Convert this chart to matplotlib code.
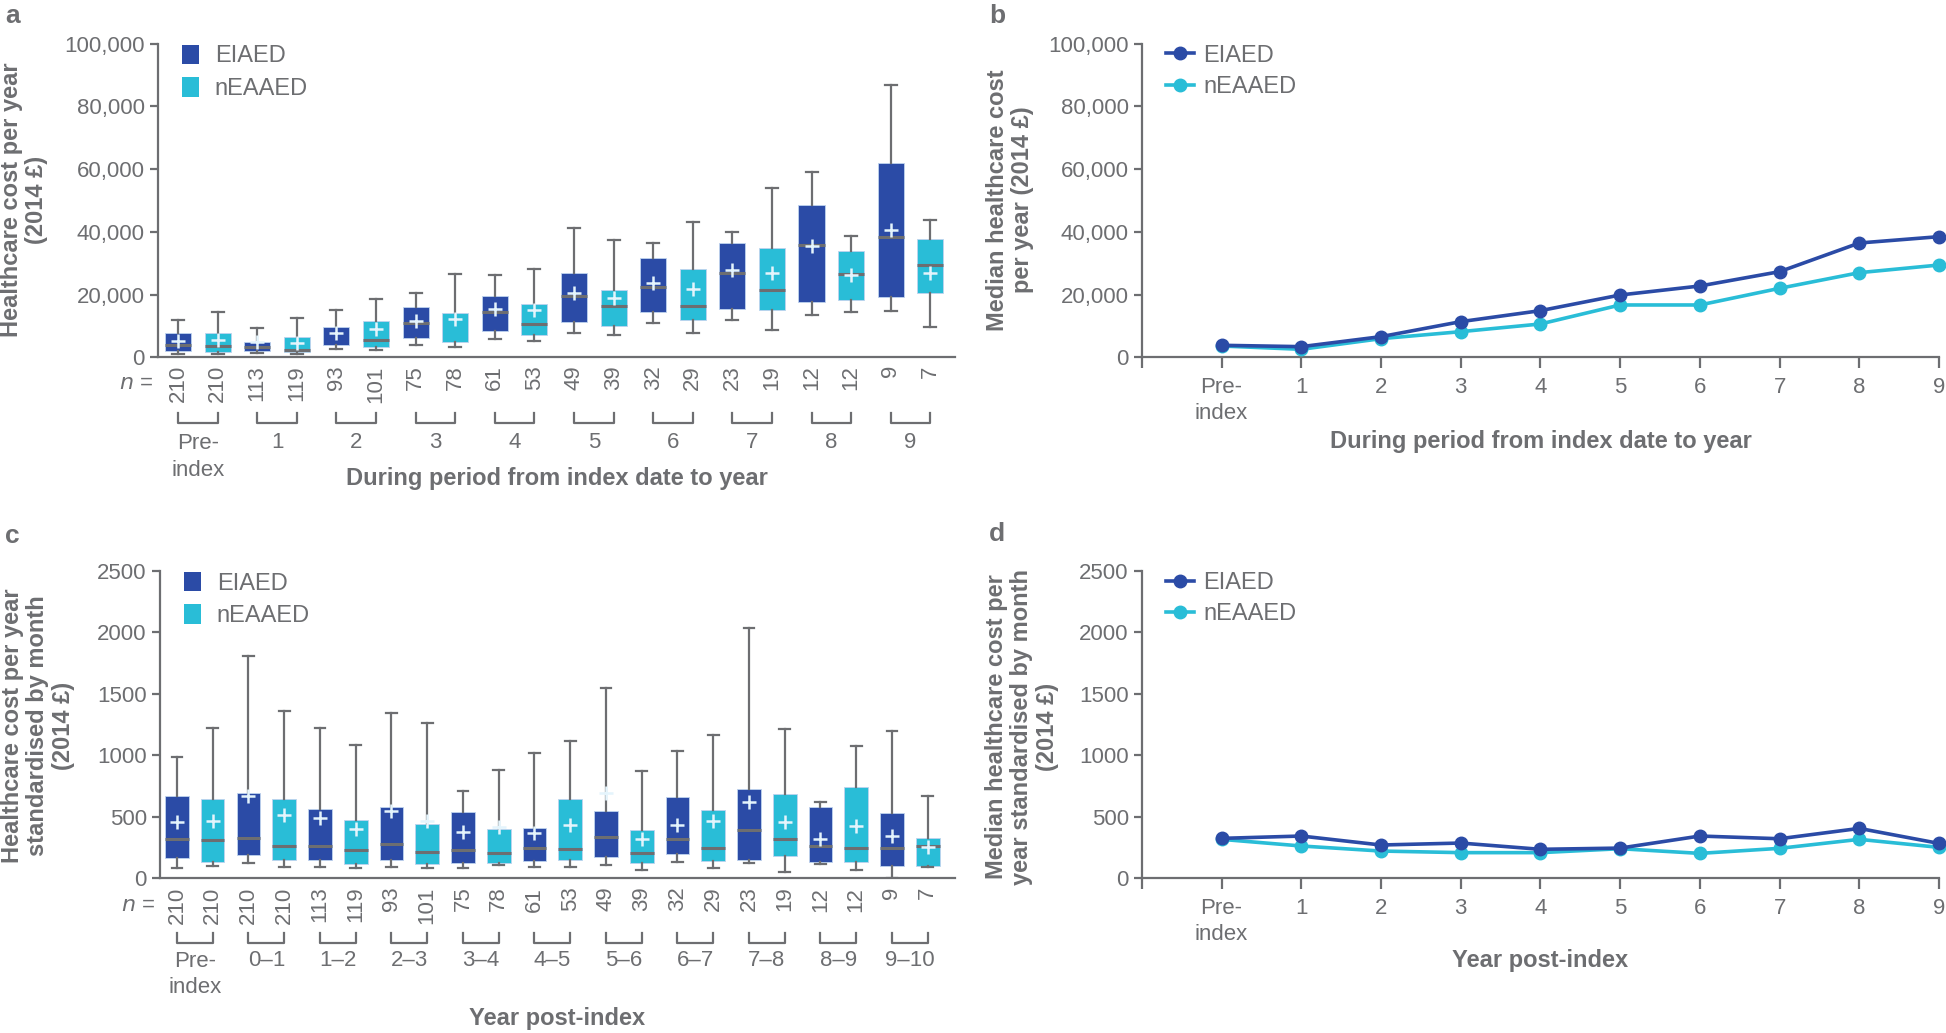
import numpy as np
import matplotlib
matplotlib.use("Agg")
import matplotlib.pyplot as plt
from matplotlib.patches import Patch

plt.rcParams['font.family'] = ['Liberation Sans', 'DejaVu Sans']

GREY = "#6D6E71"
DARK = "#2B4BA6"
CYAN = "#29BDD7"
series = ["EIAED", "nEAAED"]

# ---- panel a: cost per year, boxes alternate EIAED / nEAAED
a_groups = ["Pre-\nindex", "1", "2", "3", "4", "5", "6", "7", "8", "9"]
a_n = [210, 210, 113, 119, 93, 101, 75, 78, 61, 53, 49, 39, 32, 29, 23, 19, 12, 12, 9, 7]
a_whislo = [1060, 1060, 1490, 1060, 2660, 2340, 4040, 3400, 5950, 5210,
            7760, 7010, 11050, 7860, 11900, 8610, 13390, 14560, 14670, 9670]
a_q1 = [2020, 1700, 2020, 1590, 3930, 3400, 6270, 4780, 8400, 7010,
        11160, 10100, 14450, 11800, 15300, 15090, 17750, 18380, 19130, 20400]
a_med = [3830, 3610, 3400, 2440, np.nan, 5420, 11050, np.nan, 14560, 10520,
         19660, 16470, 22420, 16370, 26990, 21360, 35710, 26460, 38260, 29330]
a_q3 = [7865, 7870, 4780, 6380, 9780, 11480, 15940, 14030, 19550, 17000,
        26780, 21360, 31780, 28060, 36560, 34960, 48670, 34010, 61850, 37620]
a_whishi = [11900, 14560, 9460, 12430, 15090, 18600, 20400, 26460, 26140, 28270,
            41340, 37410, 36560, 43250, 39850, 54090, 59190, 38680, 86720, 43890]
a_mean = [5310, 5530, 4780, 4460, 7860, 9030, 11690, 12220, 15400, 15090,
          20620, 18920, 23800, 21790, 27740, 26780, 35600, 26350, 40600, 26990]

# ---- panel b: median cost per year
b_labels = ["Pre-\nindex", "1", "2", "3", "4", "5", "6", "7", "8", "9"]
b_eiaed = [3830, 3400, 6590, 11370, 14880, 19870, 22740, 27310, 36450, 38470]
b_neaaed = [3610, 2550, 5950, 8180, 10630, 16690, 16690, 22000, 26990, 29430]

# ---- panel c: cost per year standardised by month
c_groups = ["Pre-\nindex", "0\u20131", "1\u20132", "2\u20133", "3\u20134", "4\u20135",
            "5\u20136", "6\u20137", "7\u20138", "8\u20139", "9\u201310"]
c_n = [210, 210, 210, 210, 113, 119, 93, 101, 75, 78, 61, 53, 49, 39, 32, 29, 23, 19, 12, 12, 9, 7]
c_whislo = [87, 103, 122, 92, 92, 81, 92, 87, 87, 108, 92, 92, 108, 68, 130, 81, 122, 54, 114, 68, 0, 95]
c_q1 = [168, 135, 190, 146, 146, 114, 149, 114, 127, 127, 144, 149, 171, 122, 195, 144, 146, 181, 135, 135, 100, 103]
c_med = [322, 309, 330, 265, 265, 233, 282, 217, 233, 209, 244, 238, 333, 203, 317, 244, 393, 320, 265, 246, 244, 263]
c_q3 = [669, 645, 696, 642, 561, 477, 580, 444, 536, 401, 412, 642, 547, 390, 658, 553, 729, 688, 577, 739, 528, 325]
c_whishi = [983, 1222, 1807, 1357, 1224, 1086, 1341, 1262, 712, 880, 1016, 1119, 1549, 872, 1037, 1167, 2031, 1211, 623, 1075, 1197, 672]
c_mean = [458, 466, 669, 515, 493, 398, 550, 469, 379, 420, 366, 433, 691, 317, 433, 466, 623, 458, 322, 425, 344, 257]

# ---- panel d: median cost standardised by month
d_labels = ["Pre-\nindex", "1", "2", "3", "4", "5", "6", "7", "8", "9"]
d_eiaed = [325, 344, 271, 287, 236, 246, 344, 322, 406, 284]
d_neaaed = [317, 263, 222, 209, 209, 241, 203, 244, 317, 252]


def style_axes(ax):
    for s in ["top", "right"]:
        ax.spines[s].set_visible(False)
    for s in ["left", "bottom"]:
        ax.spines[s].set_color(GREY)
        ax.spines[s].set_linewidth(1.6)
    ax.tick_params(colors=GREY, labelcolor=GREY, labelsize=16, width=1.6, length=6)


def box_panel(ax, whislo, q1, med, q3, whishi, mean, n, groups, ylim, yticks, fmt,
              xlim, geo):
    stats = []
    for i in range(len(q1)):
        stats.append(dict(whislo=whislo[i], q1=q1[i], med=med[i], q3=q3[i],
                          whishi=whishi[i], mean=mean[i], fliers=[]))
    pos = np.arange(len(q1))
    arts = ax.bxp(stats, positions=pos, widths=0.66, patch_artist=True, showmeans=True,
                  showfliers=False, manage_ticks=False,
                  whiskerprops=dict(color=GREY, linewidth=1.6),
                  capprops=dict(color=GREY, linewidth=1.6),
                  medianprops=dict(color=GREY, linewidth=2.2),
                  meanprops=dict(marker="+", markeredgecolor="#E4F4FC", markersize=10,
                                 markeredgewidth=1.8),
                  capwidths=0.3)
    for i, b in enumerate(arts["boxes"]):
        b.set_facecolor(DARK if i % 2 == 0 else CYAN)
        b.set_edgecolor("#BFD3EE")
        b.set_linewidth(0.6)
    style_axes(ax)
    ax.set_xlim(*xlim)
    ax.set_ylim(*ylim)
    ax.set_yticks(yticks)
    ax.set_yticklabels([fmt(v) for v in yticks])
    ax.set_xticks([])
    tr = ax.get_xaxis_transform()
    ntop, btop, bbot, glab, plab, xlab, xlabel = geo
    for p, v in zip(pos, n):
        ax.text(p, ntop, str(v), rotation=90, ha="center", va="top", fontsize=16,
                color=GREY, transform=tr)
    ax.text(-0.62, ntop - 0.06, "$n$ =", ha="right", va="center", fontsize=16,
            color=GREY, transform=tr)
    for g, lab in enumerate(groups):
        x0, x1 = 2 * g, 2 * g + 1
        ax.plot([x0, x0, x1, x1], [btop, bbot, bbot, btop], color=GREY, lw=1.6,
                transform=tr, clip_on=False)
        ypos = plab if "\n" in lab else glab
        ax.text((x0 + x1) / 2, ypos, lab, ha="center", va="center", fontsize=16,
                color=GREY, transform=tr, linespacing=1.35)
    ax.text(0.5, xlab, xlabel, ha="center", va="center", fontsize=17, fontweight="bold",
            color=GREY, transform=ax.transAxes)
    ax.legend(handles=[Patch(facecolor=DARK, label=series[0]),
                       Patch(facecolor=CYAN, label=series[1])],
              loc="upper left", bbox_to_anchor=(0.015, 1.035), frameon=False, fontsize=17,
              handlelength=0.75, handleheight=0.9, handletextpad=0.65, labelspacing=0.4,
              borderpad=0, labelcolor=GREY)


def line_panel(ax, e, ne, labels, ylim, yticks, fmt, xlabel, xlab_y):
    x = np.arange(len(e))
    ax.plot(x, e, color=DARK, lw=2.6, marker="o", markersize=9, label=series[0],
            clip_on=False, zorder=4)
    ax.plot(x, ne, color=CYAN, lw=2.6, marker="o", markersize=9, label=series[1],
            clip_on=False, zorder=3)
    style_axes(ax)
    ax.set_xlim(-1, len(e) - 1)
    ax.set_ylim(*ylim)
    ax.set_yticks(yticks)
    ax.set_yticklabels([fmt(v) for v in yticks])
    ax.set_xticks(np.arange(-1, len(e)))
    ax.set_xticklabels([""] + labels, linespacing=1.35)
    ax.tick_params(axis="x", length=8, pad=6)
    ax.text(0.5, xlab_y, xlabel, ha="center", va="center", fontsize=17, fontweight="bold",
            color=GREY, transform=ax.transAxes)
    ax.legend(loc="upper left", bbox_to_anchor=(0.015, 1.035), frameon=False, fontsize=17,
              handlelength=1.2, handletextpad=0.4, labelspacing=0.4, borderpad=0,
              labelcolor=GREY)


fig = plt.figure(figsize=(19.46, 10.33), dpi=100)
ax_a = fig.add_axes([0.0812, 0.6541, 0.4095, 0.3036])
ax_b = fig.add_axes([0.5868, 0.6541, 0.4096, 0.3036])
ax_c = fig.add_axes([0.0822, 0.1497, 0.4085, 0.2978])
ax_d = fig.add_axes([0.5868, 0.1497, 0.4096, 0.2978])

comma = lambda v: f"{v:,}"
plain = lambda v: f"{v}"

box_panel(ax_a, a_whislo, a_q1, a_med, a_q3, a_whishi, a_mean, a_n, a_groups,
          (0, 100000), list(range(0, 100001, 20000)), comma, (-0.505, 19.62),
          (-0.025, -0.178, -0.209, -0.273, -0.318, -0.385,
           "During period from index date to year"))
box_panel(ax_c, c_whislo, c_q1, c_med, c_q3, c_whishi, c_mean, c_n, c_groups,
          (0, 2500), list(range(0, 2501, 500)), plain, (-0.475, 21.76),
          (-0.027, -0.178, -0.21, -0.266, -0.313, -0.455, "Year post-index"))
line_panel(ax_b, b_eiaed, b_neaaed, b_labels, (0, 100000), list(range(0, 100001, 20000)),
           comma, "During period from index date to year", -0.27)
line_panel(ax_d, d_eiaed, d_neaaed, d_labels, (0, 2500), list(range(0, 2501, 500)),
           plain, "Year post-index", -0.266)

# y labels and panel letters
ylab = dict(rotation=90, ha="center", va="center", fontsize=17, fontweight="bold",
            color=GREY, multialignment="center", linespacing=1.15)
fig.text(24 / 1946, 1 - 200 / 1033, "Healthcare cost per year\n(2014 \u00a3)", **ylab)
fig.text(1010 / 1946, 1 - 200 / 1033, "Median healthcare cost\nper year (2014 \u00a3)", **ylab)
fig.text(38 / 1946, 1 - 726 / 1033,
         "Healthcare cost per year\nstandardised by month\n(2014 \u00a3)", **ylab)
fig.text(1022 / 1946, 1 - 727 / 1033,
         "Median healthcare cost per\nyear standardised by month\n(2014 \u00a3)", **ylab)
for lab, x, y in [("a", 5, 4), ("b", 989, 4), ("c", 5, 524), ("d", 989, 522)]:
    fig.text(x / 1946, 1 - y / 1033, lab, ha="left", va="top", fontsize=19,
             fontweight="bold", color=GREY)

fig.savefig("out.png", dpi=100)
